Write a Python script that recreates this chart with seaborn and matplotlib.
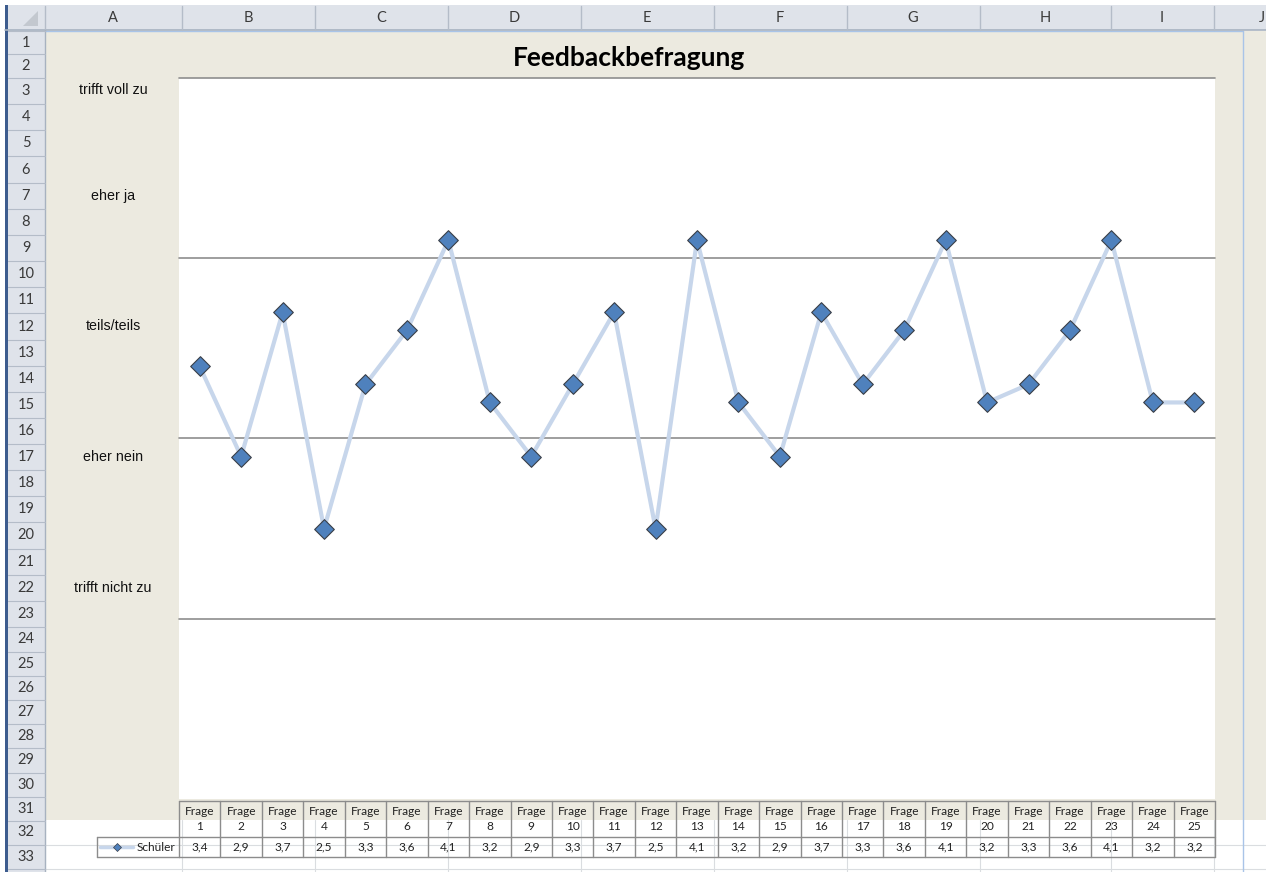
import matplotlib
matplotlib.use("Agg")
import numpy as np
import pandas as pd
import matplotlib.pyplot as plt
import matplotlib.transforms as mtransforms
from matplotlib.patches import Rectangle, Polygon
import seaborn as sns

# --- data ---
frage = ["1", "2", "3", "4", "5", "6", "7", "8", "9", "10", "11", "12", "13",
         "14", "15", "16", "17", "18", "19", "20", "21", "22", "23", "24", "25"]
schueler = [3.4, 2.9, 3.7, 2.5, 3.3, 3.6, 4.1, 3.2, 2.9, 3.3, 3.7, 2.5, 4.1,
            3.2, 2.9, 3.7, 3.3, 3.6, 4.1, 3.2, 3.3, 3.6, 4.1, 3.2, 3.2]
stufen = ["trifft voll zu", "eher ja", "teils/teils", "eher nein", "trifft nicht zu"]
spalten = ["A", "B", "C", "D", "E", "F", "G", "H", "I", "J"]
zeilen = [str(r) for r in range(1, 34)]

# --- layout of the spreadsheet around the chart (pixels) ---
W, H = 1266, 872
col_edges = [45, 181.5, 314.5, 447.5, 580.5, 713.5, 846.5, 979.5, 1110.5, 1213.5, 1310]
row_centers = [43, 66, 91, 117, 143, 170, 196, 222, 248, 274, 300, 327, 353, 379,
               405, 431, 457, 483, 509, 535, 562, 588, 614, 639, 664, 688, 712,
               736, 760, 785, 809, 832, 857]
stufen_y = [90, 196, 326, 457, 588]

sns.set_style("white")
plt.rcParams['font.family'] = ['Lato', 'DejaVu Sans']

fig = plt.figure(figsize=(W / 100, H / 100), dpi=100)
bg = fig.add_axes([0, 0, 1, 1])
bg.set_xlim(0, W)
bg.set_ylim(H, 0)
bg.axis('off')

hdr = '#DFE3EA'
sep = '#B4BCC8'
grid_faint = '#DADDE0'
beige = '#ECEAE0'

# sheet grid below the chart
for x in col_edges:
    bg.plot([x, x], [820, H], color=grid_faint, lw=0.8)
row_edges = [31] + [(a + b) / 2 for a, b in zip(row_centers[:-1], row_centers[1:])] + [869]
for y in row_edges:
    if y > 821:
        bg.plot([45, W], [y, y], color=grid_faint, lw=0.8)

# chart area
bg.add_patch(Rectangle((45, 31), W - 45, 820 - 31, fc=beige, ec='none'))
bg.plot([1243, 1243], [31, H], color='#A9C4E8', lw=1)
bg.plot([45, 1243], [31.5, 31.5], color='#A9C4E8', lw=1)

# column header
bg.add_patch(Rectangle((5, 5), W - 5, 25, fc=hdr, ec='none'))
bg.plot([5, W], [30, 30], color='#A7B2C0', lw=1.2)
for x in col_edges[:-1]:
    bg.plot([x, x], [6, 30], color=sep, lw=1)
for i, s in enumerate(spalten):
    xc = (col_edges[i] + col_edges[i + 1]) / 2
    if s == "J":
        xc = 1262
    bg.text(xc, 18, s, ha='center', va='center', fontsize=10.5, color='#3A3A3A')
bg.add_patch(Polygon([(38, 11), (38, 26), (23, 26)], fc='#C3C8CF', ec='none'))

# row header
bg.add_patch(Rectangle((5, 30), 40, H - 30, fc=hdr, ec='none'))
bg.plot([45, 45], [30, H], color='#A7B2C0', lw=1)
for y in row_edges:
    bg.plot([8, 45], [y, y], color=sep, lw=0.8)
for r, y in zip(zeilen, row_centers):
    bg.text(26, y, r, ha='center', va='center', fontsize=10.5, color='#3A3A3A')
bg.add_patch(Rectangle((5, 5), 3, H - 5, fc='#3D5C8E', ec='none'))

# title and rating labels
bg.text(629, 58, "Feedbackbefragung", ha='center', va='center',
        fontsize=19, fontweight='bold', color='black')
for s, y in zip(stufen, stufen_y):
    bg.text(113, y, s, ha='center', va='center', fontsize=10.3,
            family=['Liberation Sans', 'DejaVu Sans'], color='#111111')

# --- the line chart ---
ax = fig.add_axes([179 / W, 1 - 799 / H, (1215 - 179) / W, (799 - 78) / H])
ax.set_facecolor('white')
df = pd.DataFrame({"frage": frage, "wert": schueler})
df["pos"] = np.arange(len(df))

for g in [2, 3, 4, 5]:
    ax.axhline(g, color='#8E8E8E', lw=1.2, zorder=1, clip_on=False)

sns.lineplot(data=df, x="pos", y="wert", color='#C7D6EB', lw=3, ax=ax, zorder=2)
sns.scatterplot(data=df, x="pos", y="wert", marker="D", s=100, color='#4F81BD',
                edgecolor='#3A3F48', linewidth=0.8, ax=ax, zorder=3, clip_on=False)
ax.set_xlim(-0.5, len(frage) - 0.5)
ax.set_ylim(1, 5)
ax.set_xlabel("")
ax.set_ylabel("")
ax.set_xticks([])
ax.set_yticks([])
for sp in ax.spines.values():
    sp.set_visible(False)

# --- data table under the chart ---
tr = mtransforms.blended_transform_factory(ax.transData, bg.transData)
tcol = '#8C8C8C'
tfs = 8.6
n = len(frage)
for b in np.arange(n + 1) - 0.5:
    bg.plot([b, b], [801, 857], color=tcol, lw=1, transform=tr)
for y in [801, 837, 857]:
    bg.plot([-0.5, n - 0.5], [y, y], color=tcol, lw=1, transform=tr)
bg.plot([97, 179], [837, 837], color=tcol, lw=1)
bg.plot([97, 179], [857, 857], color=tcol, lw=1)
bg.plot([97, 97], [837, 857], color=tcol, lw=1)
bg.plot([100, 133], [847, 847], color='#C7D6EB', lw=2.5)
bg.plot([117], [847], marker='D', ms=4, color='#4F81BD', mec='#3A3F48', mew=0.5)
bg.text(175, 847, "Schüler", ha='right', va='center', fontsize=tfs, color='#222222')

for i, (f, v) in enumerate(zip(frage, schueler)):
    bg.text(i, 811, "Frage", ha='center', va='center', fontsize=tfs,
            color='#222222', transform=tr)
    bg.text(i, 826, f, ha='center', va='center', fontsize=tfs,
            color='#222222', transform=tr)
    bg.text(i, 847, f"{v:.1f}".replace('.', ','), ha='center', va='center',
            fontsize=tfs, color='#222222', transform=tr)

fig.savefig("out.png", dpi=100)
